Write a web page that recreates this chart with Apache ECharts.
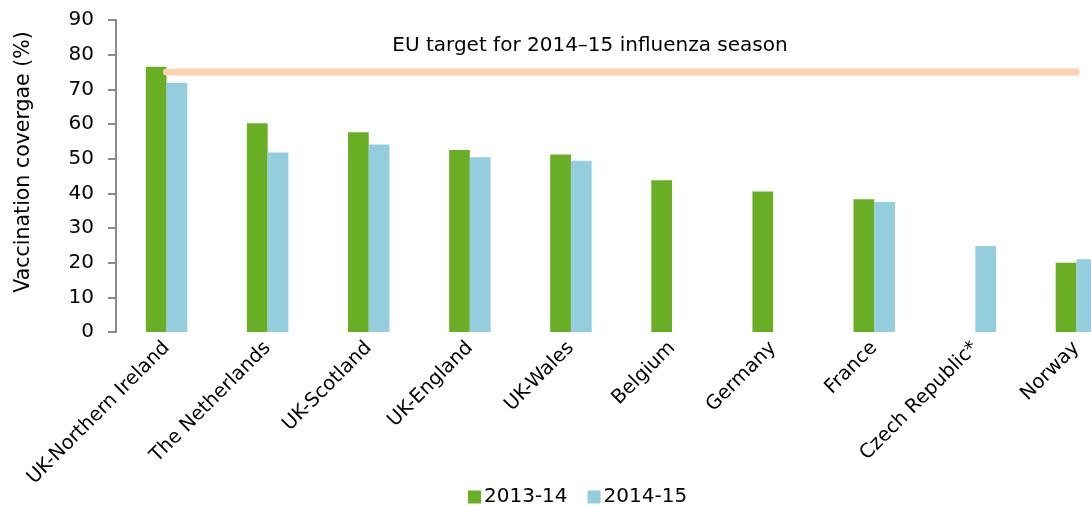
<!DOCTYPE html>
<html>
<head>
<meta charset="utf-8">
<script src="https://cdn.jsdelivr.net/npm/echarts@6/dist/echarts.min.js"></script>
<style>
html,body{margin:0;padding:0;overflow:hidden;background:#fff;}
#c{width:1200px;height:506px;}
</style>
</head>
<body>
<div id="c"></div>
<script>
const categories = ['UK-Northern Ireland','The Netherlands','UK-Scotland','UK-England','UK-Wales','Belgium','Germany','France','Czech Republic*','Norway'];
const season1314 = [76.5, 60.2, 57.6, 52.5, 51.2, 43.8, 40.5, 38.3, null, 20.0];
const season1415 = [71.9, 51.8, 54.1, 50.4, 49.4, null, null, 37.5, 24.8, 21.0];
const euTarget = [75, 75, 75, 75, 75, 75, 75, 75, 75, 75];
const targetLabel = 'EU target for 2014\u201315 influenza season';
const targetLabelIndex = 4;
const yTicks = {min: 0, max: 90, interval: 10};

const FONT = 'DejaVu Sans';
const chart = echarts.init(document.getElementById('c'));
chart.setOption({
  animation: false,
  textStyle: {fontFamily: FONT},
  grid: {left: 116, top: 20, width: 1011, bottom: 174, containLabel: false},
  legend: {
    data: ['2013-14', '2014-15'],
    left: 463, top: 482,
    itemWidth: 13, itemHeight: 13, itemGap: 20,
    icon: 'rect',
    textStyle: {fontFamily: FONT, fontSize: 20, color: '#000', padding: [0,0,0,-2]}
  },
  xAxis: {
    type: 'category',
    data: categories,
    axisLine: {show: false},
    axisTick: {show: false},
    axisLabel: {interval: 0, rotate: 45, fontSize: 19.5, color: '#000', margin: 13, fontFamily: FONT}
  },
  yAxis: {
    type: 'value',
    min: yTicks.min, max: yTicks.max, interval: yTicks.interval,
    name: 'Vaccination covergae (%)',
    nameLocation: 'middle',
    nameGap: 82,
    nameRotate: 90,
    nameTextStyle: {fontSize: 20.5, color: '#000', fontFamily: FONT, padding: [0,0,0,28]},
    axisLine: {show: true, lineStyle: {color: '#8a8a8a', width: 2}},
    axisTick: {show: true, length: 8, lineStyle: {color: '#8a8a8a', width: 2}},
    splitLine: {show: false},
    axisLabel: {fontSize: 20, color: '#000', margin: 22, fontFamily: FONT}
  },
  series: [
    {
      name: '2013-14', type: 'bar', data: season1314,
      barWidth: '20.5%', barGap: '0%',
      itemStyle: {color: '#6aae26'}
    },
    {
      name: '2014-15', type: 'bar', data: season1415,
      barWidth: '20.5%', barGap: '0%',
      itemStyle: {color: '#94cddd'}
    },
    {
      name: 'EU target', type: 'line',
      data: euTarget.map((v, i) => i === targetLabelIndex ? {
        value: v,
        label: {show: true, position: 'top', formatter: targetLabel, offset: [19, -11],
                fontSize: 20, color: '#000', fontFamily: FONT}
      } : v),
      symbol: 'circle', symbolSize: 0, showSymbol: true,
      lineStyle: {color: '#fdd3b1', width: 7, cap: 'round'},
      itemStyle: {color: '#fdd3b1'},
      z: 5
    }
  ]
});
</script>
</body>
</html>
